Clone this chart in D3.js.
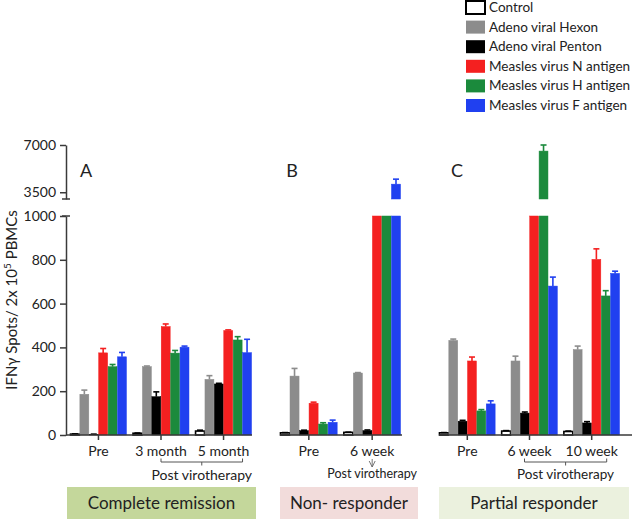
<!DOCTYPE html>
<html><head><meta charset="utf-8">
<script src="https://cdn.jsdelivr.net/npm/d3@7"></script>
<style>body{margin:0;background:#fff}svg{display:block;font-family:Lato,"Open Sans",sans-serif}</style>
</head><body><svg id="c" width="632" height="521"></svg>
<script>
// ---- data ----
const panels = ["A", "B", "C"];
const panelTitles = ["Complete remission", "Non- responder", "Partial responder"];
const groupLabels = ["Pre", "3 month", "5 month", "Pre", "6 week", "Pre", "6 week", "10 week"];
const groupPanel = ["A", "A", "A", "B", "B", "C", "C", "C"];
const seriesNames = ["Control", "Adeno viral Hexon", "Adeno viral Penton", "Measles virus N antigen", "Measles virus H antigen", "Measles virus F antigen"];
const seriesColors = ["#ffffff", "#8c8c8c", "#000000", "#f42020", "#1b8a3c", "#2040f0"];
const control = [4, 8, 18, 10, 12, 10, 18, 16];
const controlErr = [1, 1, 4, 1, 1, 1, 2, 2];
const hexon = [186, 312, 254, 269, 283, 432, 338, 390];
const hexonErr = [19, 3, 17, 35, 2, 6, 22, 16];
const penton = [3, 175, 233, 20, 20, 63, 100, 55];
const pentonErr = [1, 22, 3, 2, 3, 4, 5, 6];
const measN = [375, 495, 477, 145, 2500, 338, 2500, 802];
const measNErr = [20, 12, 3, 5, 0, 18, 0, 48];
const measH = [312, 374, 434, 50, 2500, 110, 6550, 635];
const measHErr = [10, 12, 15, 6, 0, 6, 450, 24];
const measF = [357, 401, 376, 58, 4100, 142, 680, 738];
const measFErr = [20, 5, 61, 10, 370, 14, 41, 10];
const lowTicks = [0, 200, 400, 600, 800, 1000];
const highTicks = [3500, 7000];

const values = [control, hexon, penton, measN, measH, measF];
const errors = [controlErr, hexonErr, pentonErr, measNErr, measHErr, measFErr];

const svg = d3.select("#c");
const yLow = d3.scaleLinear().domain([0, 1000]).range([435, 216]);
const yHigh = d3.scaleLinear().domain([3000, 7000]).range([199, 145]);
const axisColor = "#3a3a3a";

// panel geometry
const panelGroupRange = {A: [70, 252], B: [280, 401], C: [439, 620]};
const panelAxisRange = {A: [66, 252], B: [280, 402], C: [439, 632]};
const panelBox = {A: [67, 256], B: [280, 418], C: [439, 629]};
const panelBoxColor = {A: "#c4d79b", B: "#f2dcdb", C: "#ebf1de"};
const panelLabelX = {A: 86, B: 292, C: 457};

const centers = {};
panels.forEach((p, pi) => {
  const idx = groupLabels.map((d, i) => i).filter(i => groupPanel[i] === p);
  const x0 = d3.scaleBand().domain(idx).range(panelGroupRange[p]).paddingInner(0.09).paddingOuter(0);
  const x1 = d3.scaleBand().domain(d3.range(seriesNames.length)).range([0, x0.bandwidth()]).padding(0.05);
  const g = svg.append("g");
  idx.forEach(i => {
    centers[i] = x0(i) + x0.bandwidth() / 2;
    seriesNames.forEach((s, si) => {
      const v = values[si][i], e = errors[si][i];
      const x = x0(i) + x1(si), w = x1.bandwidth();
      const fill = seriesColors[si];
      const stroke = si === 0 ? "#000" : fill;
      const sw = si === 0 ? 1.6 : 0.5;
      const vl = Math.min(v, 1000);
      g.append("rect").attr("x", x).attr("width", w)
        .attr("y", yLow(vl)).attr("height", Math.max(yLow(0) - yLow(vl), 0.5))
        .attr("fill", fill).attr("stroke", stroke).attr("stroke-width", sw);
      let ys = null, yt = null;
      if (v <= 1000) { ys = yLow(v); yt = yLow(v + e); }
      if (v > 3000) {
        g.append("rect").attr("x", x).attr("width", w)
          .attr("y", yHigh(v)).attr("height", yHigh(3000) - yHigh(v))
          .attr("fill", fill).attr("stroke", stroke).attr("stroke-width", sw);
        ys = yHigh(v); yt = yHigh(v + e);
      }
      if (ys !== null && e > 0) {
        const cx = x + w / 2;
        const ec = si === 0 ? "#000" : fill;
        g.append("line").attr("x1", cx).attr("x2", cx).attr("y1", ys).attr("y2", yt)
          .attr("stroke", ec).attr("stroke-width", 1.6);
        g.append("line").attr("x1", cx - 3).attr("x2", cx + 3).attr("y1", yt).attr("y2", yt)
          .attr("stroke", ec).attr("stroke-width", 1.6);
      }
    });
  });
  const [a0, a1] = panelAxisRange[p];
  svg.append("line").attr("x1", a0).attr("x2", a1).attr("y1", 435).attr("y2", 435)
    .attr("stroke", axisColor).attr("stroke-width", 1.5);
  idx.forEach(i => {
    svg.append("line").attr("x1", centers[i]).attr("x2", centers[i]).attr("y1", 435).attr("y2", 440)
      .attr("stroke", axisColor).attr("stroke-width", 1.5);
    svg.append("text").attr("x", centers[i]).attr("y", 456).attr("text-anchor", "middle")
      .attr("font-size", 14).attr("fill", "#222").text(groupLabels[i]);
  });
  svg.append("text").attr("x", panelLabelX[p]).attr("y", 177).attr("text-anchor", "middle")
    .attr("font-size", 18).attr("fill", "#222").text(p);
  const [b0, b1] = panelBox[p];
  svg.append("rect").attr("x", b0).attr("y", 487).attr("width", b1 - b0).attr("height", 32)
    .attr("fill", panelBoxColor[p]);
  svg.append("text").attr("x", (b0 + b1) / 2).attr("y", 509).attr("text-anchor", "middle")
    .attr("font-size", 17).attr("fill", "#222").text(panelTitles[pi]);
});

function bracket(xa, xb, fs, ty) {
  const mid = (xa + xb) / 2;
  svg.append("path").attr("d", `M${xa},458.5V462H${xb}V458.5M${mid},462V465.5`)
    .attr("fill", "none").attr("stroke", "#555").attr("stroke-width", 1);
  svg.append("text").attr("x", mid).attr("y", ty).attr("text-anchor", "middle")
    .attr("font-size", fs).attr("fill", "#222").text("Post virotherapy");
}
bracket(centers[1], centers[2] + 19, 14, 480);
bracket(centers[6] - 5, centers[7] + 15, 13.5, 479);
const bx = centers[4];
svg.append("path").attr("d", `M${bx},459V467M${bx - 3},461L${bx},467L${bx + 3},461`)
  .attr("fill", "none").attr("stroke", "#666").attr("stroke-width", 0.9);
svg.append("text").attr("x", bx).attr("y", 478).attr("text-anchor", "middle")
  .attr("font-size", 12.5).attr("fill", "#222").text("Post virotherapy");

function styleAxis(g) {
  g.selectAll("path.domain").attr("stroke", axisColor).attr("stroke-width", 1.5);
  g.selectAll(".tick line").attr("stroke", axisColor).attr("stroke-width", 1.5);
  g.selectAll(".tick text").attr("font-size", 14).attr("fill", "#222").attr("font-family", "Lato, sans-serif");
}
const gLow = svg.append("g").attr("transform", "translate(66,0)")
  .call(d3.axisLeft(yLow).tickValues(lowTicks).tickFormat(d3.format("d")).tickSize(6).tickSizeOuter(0).tickPadding(4));
styleAxis(gLow);
const gHigh = svg.append("g").attr("transform", "translate(66,0)")
  .call(d3.axisLeft(yHigh).tickValues(highTicks).tickFormat(d3.format("d")).tickSize(6).tickSizeOuter(0).tickPadding(4));
styleAxis(gHigh);
svg.append("line").attr("x1", 62).attr("x2", 70).attr("y1", 199).attr("y2", 199)
  .attr("stroke", axisColor).attr("stroke-width", 1.5);
svg.append("line").attr("x1", 62).attr("x2", 70).attr("y1", 216).attr("y2", 216)
  .attr("stroke", axisColor).attr("stroke-width", 1.5);

const yt = svg.append("text").attr("transform", "translate(17,300) rotate(-90)")
  .attr("text-anchor", "middle").attr("font-size", 15).attr("fill", "#222");
yt.append("tspan").text("IFNγ Spots/ 2x 10");
yt.append("tspan").attr("font-size", 10).attr("dy", -6).text("5");
yt.append("tspan").attr("dy", 6).text(" PBMCs");

const lg = svg.append("g").attr("transform", "translate(466,0)");
seriesNames.forEach((s, i) => {
  const y = 1 + i * 19.6;
  lg.append("rect").attr("x", 0).attr("y", y).attr("width", 19).attr("height", 13)
    .attr("fill", seriesColors[i]).attr("stroke", i === 0 ? "#000" : "none").attr("stroke-width", 2);
  lg.append("text").attr("x", 23).attr("y", y + 11).attr("font-size", 13.5).attr("fill", "#222").text(s);
});
</script></body></html>
